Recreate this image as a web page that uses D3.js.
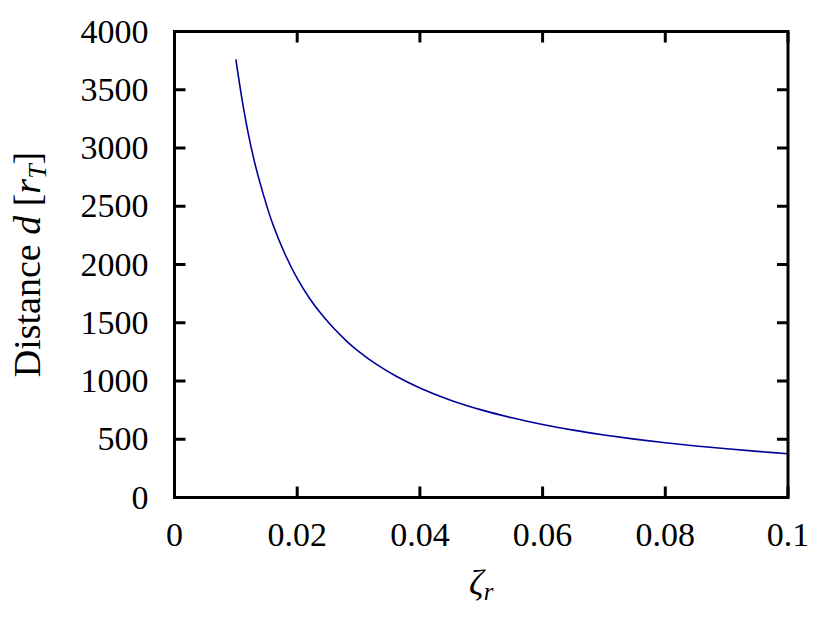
<!DOCTYPE html>
<html>
<head>
<meta charset="utf-8">
<script src="https://cdn.jsdelivr.net/npm/d3@7"></script>
<style>
  body { margin: 0; background: #fff; }
  text { font-family: "Liberation Serif", "DejaVu Serif", serif; fill: #000; }
</style>
</head>
<body>
<div id="chart"></div>
<script>
// values
const zeta = [0.010, 0.011, 0.012, 0.013, 0.014, 0.015, 0.016, 0.018, 0.020, 0.022,
              0.024, 0.026, 0.028, 0.030, 0.033, 0.036, 0.040, 0.045, 0.050, 0.055,
              0.060, 0.065, 0.070, 0.075, 0.080, 0.085, 0.090, 0.095, 0.100];
const distance = [3760, 3420, 3130, 2890, 2690, 2510, 2350, 2090, 1880, 1710,
                  1570, 1450, 1345, 1255, 1140, 1045, 940, 835, 752, 684,
                  627, 578, 537, 501, 470, 442, 418, 396, 376];
const xTicks = [0, 0.02, 0.04, 0.06, 0.08, 0.1];
const xTickLabels = ["0", "0.02", "0.04", "0.06", "0.08", "0.1"];
const yTicks = [0, 500, 1000, 1500, 2000, 2500, 3000, 3500, 4000];

const W = 829, H = 622;
const margin = { top: 31.5, right: 41, bottom: 124.5, left: 174.5 };
const width = W - margin.left - margin.right,
      height = H - margin.top - margin.bottom;

const svg = d3.select("#chart").append("svg")
    .attr("width", W)
    .attr("height", H);

const g = svg.append("g")
    .attr("transform", `translate(${margin.left},${margin.top})`);

const x = d3.scaleLinear().domain([0, 0.1]).range([0, width]);
const y = d3.scaleLinear().domain([0, 4000]).range([height, 0]);

const tickLen = 11;

// ticks on all four sides, pointing inward
xTicks.forEach(t => {
    g.append("line").attr("x1", x(t)).attr("x2", x(t))
        .attr("y1", height).attr("y2", height - tickLen)
        .attr("stroke", "#000").attr("stroke-width", 3);
    g.append("line").attr("x1", x(t)).attr("x2", x(t))
        .attr("y1", 0).attr("y2", tickLen)
        .attr("stroke", "#000").attr("stroke-width", 3);
});
yTicks.forEach(t => {
    g.append("line").attr("x1", 0).attr("x2", tickLen)
        .attr("y1", y(t)).attr("y2", y(t))
        .attr("stroke", "#000").attr("stroke-width", 3);
    g.append("line").attr("x1", width).attr("x2", width - tickLen)
        .attr("y1", y(t)).attr("y2", y(t))
        .attr("stroke", "#000").attr("stroke-width", 3);
});

// tick labels
g.selectAll(".xl").data(xTicks).enter().append("text")
    .attr("x", d => x(d))
    .attr("y", height + 48)
    .attr("text-anchor", "middle")
    .style("font-size", "34px")
    .text((d, i) => xTickLabels[i]);

g.selectAll(".yl").data(yTicks).enter().append("text")
    .attr("x", -26)
    .attr("y", d => y(d) + 11)
    .attr("text-anchor", "end")
    .style("font-size", "34px")
    .text(d => d);

// curve
const line = d3.line()
    .x((d, i) => x(zeta[i]))
    .y(d => y(d))
    .curve(d3.curveCatmullRom.alpha(0.5));

g.append("path")
    .datum(distance)
    .attr("d", line)
    .attr("fill", "none")
    .attr("stroke", "#00009a")
    .attr("stroke-width", 1.6);

// frame
g.append("rect")
    .attr("x", 0).attr("y", 0)
    .attr("width", width).attr("height", height)
    .attr("fill", "none")
    .attr("stroke", "#000")
    .attr("stroke-width", 3);

// axis labels
const xl = svg.append("text")
    .attr("x", margin.left + width / 2)
    .attr("y", 595)
    .attr("text-anchor", "middle")
    .style("font-size", "36px");
xl.append("tspan").style("font-style", "italic").text("ζ");
xl.append("tspan").style("font-style", "italic").style("font-size", "25px")
    .attr("dy", 5).text("r");

const yl = svg.append("text")
    .attr("transform", `translate(40,${margin.top + height / 2}) rotate(-90)`)
    .attr("text-anchor", "middle")
    .style("font-size", "38px");
yl.append("tspan").text("Distance ");
yl.append("tspan").style("font-style", "italic").text("d");
yl.append("tspan").text(" [");
yl.append("tspan").style("font-style", "italic").text("r");
yl.append("tspan").style("font-style", "italic").style("font-size", "26px")
    .attr("dy", 6).text("T");
yl.append("tspan").attr("dy", -6).text("]");
</script>
</body>
</html>
